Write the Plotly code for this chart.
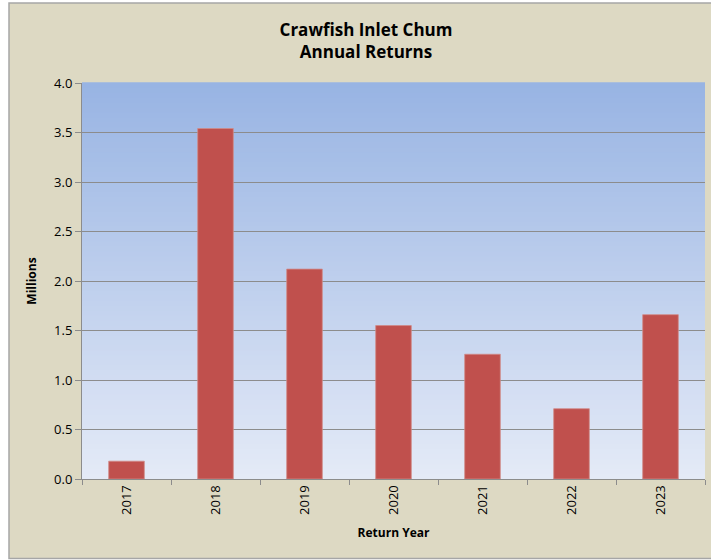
import plotly.graph_objects as go

years = ["2017", "2018", "2019", "2020", "2021", "2022", "2023"]
returns_millions = [0.18, 3.54, 2.12, 1.55, 1.26, 0.71, 1.66]
y_ticks = [0.0, 0.5, 1.0, 1.5, 2.0, 2.5, 3.0, 3.5, 4.0]
y_tick_labels = ["0.0", "0.5", "1.0", "1.5", "2.0", "2.5", "3.0", "3.5", "4.0"]

W, H = 711, 560
L, R, T, B = 82, 6, 83, 81
pw, ph = W - L - R, H - T - B

def px_to_paper_x(px):
    return (px - L) / pw

def px_to_paper_y(py):
    return (H - B - py) / ph

fig = go.Figure()
fig.add_trace(go.Bar(
    x=years, y=returns_millions,
    marker=dict(color="#c0504d", line=dict(color="#d08a88", width=0.8)),
    width=0.4,
))

shapes = []
shapes.append(dict(type="rect", xref="paper", yref="paper",
                   x0=px_to_paper_x(9), x1=px_to_paper_x(715),
                   y0=px_to_paper_y(558.5), y1=px_to_paper_y(3),
                   fillcolor="#ddd9c3", line=dict(color="#a6a6a6", width=1.5),
                   layer="below"))
n = 80
top = (152, 180, 227)
bot = (228, 234, 247)
for i in range(n):
    f = i / (n - 1)
    c = tuple(round(bot[k] + (top[k] - bot[k]) * f) for k in range(3))
    shapes.append(dict(type="rect", xref="x domain", yref="y domain",
                       x0=0, x1=1, y0=i / n, y1=(i + 1) / n + 0.002,
                       fillcolor="rgb(%d,%d,%d)" % c, line=dict(width=0),
                       layer="below"))

fig.update_layout(
    width=W, height=H,
    margin=dict(l=L, r=R, t=T, b=B),
    paper_bgcolor="white",
    plot_bgcolor="rgba(0,0,0,0)",
    shapes=shapes,
    showlegend=False,
    font=dict(family="Open Sans, Lato, sans-serif", color="#000000"),
    title=dict(text="<b>Crawfish Inlet Chum<br>Annual Returns</b>",
               x=(366 - L) / pw, xref="paper", xanchor="center",
               y=1 - 36 / H, yanchor="middle",
               font=dict(size=17, family="Open Sans, sans-serif")),
    bargap=0.6,
)
fig.update_yaxes(
    range=[0, 4.0], tickvals=y_ticks, ticktext=y_tick_labels,
    showgrid=True, gridcolor="#8c8c8c", gridwidth=1,
    showline=True, linecolor="#8c8c8c", linewidth=1,
    ticks="outside", ticklen=6, tickcolor="#8c8c8c",
    tickfont=dict(size=13),
    title=dict(text="<b>Millions</b>", font=dict(size=12), standoff=14),
    zeroline=False,
)
fig.update_xaxes(
    type="category",
    showline=True, linecolor="#8c8c8c", linewidth=1,
    ticks="outside", ticklen=5, tickcolor="#8c8c8c", tickson="boundaries",
    tickangle=-90, tickfont=dict(size=13),
    title=dict(text="<b>Return Year</b>", font=dict(size=12), standoff=14),
    showgrid=False,
)
fig.write_html("out.html",
               config={"displayModeBar": False},
               post_script="document.body.style.margin='0';document.body.style.padding='0';")
